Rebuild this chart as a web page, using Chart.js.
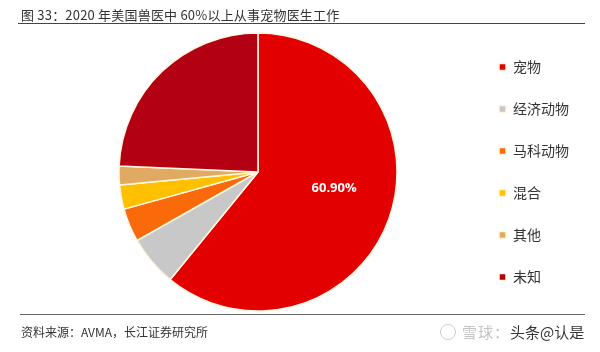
<!DOCTYPE html>
<html>
<head>
<meta charset="utf-8">
<script src="https://cdn.jsdelivr.net/npm/chart.js@4/dist/chart.umd.min.js"></script>
<style>
  html, body { margin:0; padding:0; background:#fff; }
  #wrap { position:relative; width:600px; height:352px; overflow:hidden; font-family:"Noto Sans CJK SC","Noto Sans",sans-serif; }
  #title { position:absolute; left:21px; top:5px; font-size:13px; letter-spacing:0.2px; color:#333; white-space:nowrap; }
  #topline { position:absolute; left:18px; top:23px; width:567px; height:1px; background:#444; }
  #botline { position:absolute; left:20px; top:314px; width:565px; height:1px; background:#666; }
  #source { position:absolute; left:21px; top:323px; font-size:12px; color:#333; white-space:nowrap; }
  #wm { position:absolute; left:462px; top:321px; font-size:15px; color:#c4c4c4; white-space:nowrap; letter-spacing:1px; }
  #wm b { font-weight:normal; color:#333; letter-spacing:0; }
  #logo { position:absolute; left:440px; top:324px; width:14px; height:14px; border:1.5px solid #ccc; border-radius:50%; }
  #cv { position:absolute; left:0; top:0; }
</style>
</head>
<body>
<div id="wrap">
  <canvas id="cv" width="600" height="352"></canvas>
  <div id="title">图 33：2020 年美国兽医中 60%以上从事宠物医生工作</div>
  <div id="topline"></div>
  <div id="botline"></div>
  <div id="source">资料来源：AVMA，长江证券研究所</div>
  <div id="logo"></div>
  <div id="wm">雪球：<b>头条@认是</b></div>
</div>
<script>
const categories = ["宠物", "经济动物", "马科动物", "混合", "其他", "未知"];
const shares = [60.9, 5.9, 3.9, 2.8, 2.2, 24.3];
const sliceColors = ["#E20000", "#C8C8C8", "#FA6A0A", "#FFC000", "#E0AA62", "#B30012"];
const labelIndex = [0];

const sliceLabels = {
  id: "sliceLabels",
  afterDatasetsDraw(chart) {
    const ctx = chart.ctx;
    const meta = chart.getDatasetMeta(0);
    ctx.save();
    ctx.fillStyle = "#fff";
    ctx.font = "bold 13px 'Open Sans', 'Noto Sans', sans-serif";
    ctx.textAlign = "center";
    ctx.textBaseline = "middle";
    labelIndex.forEach(i => {
      const a = meta.data[i];
      const mid = (a.startAngle + a.endAngle) / 2 - 0.13;
      const r = a.outerRadius * 0.56;
      ctx.fillText(shares[i].toFixed(2) + "%", a.x + Math.cos(mid) * r, a.y + Math.sin(mid) * r);
    });
    ctx.restore();
  }
};

new Chart(document.getElementById("cv"), {
  type: "pie",
  data: {
    labels: categories,
    datasets: [{
      data: shares,
      backgroundColor: sliceColors,
      borderColor: "#FFF6E0",
      borderWidth: 1.5,
      radius: 139
    }]
  },
  options: {
    responsive: false,
    animation: false,
    layout: { padding: { top: 28, bottom: 36, left: 45, right: 21 } },
    plugins: {
      tooltip: { enabled: false },
      legend: {
        position: "right",
        labels: {
          boxWidth: 7,
          boxHeight: 7,
          padding: 28,
          color: "#333",
          font: { size: 14, family: "'Noto Sans CJK SC', sans-serif" }
        }
      }
    }
  },
  plugins: [sliceLabels]
});
</script>
</body>
</html>
